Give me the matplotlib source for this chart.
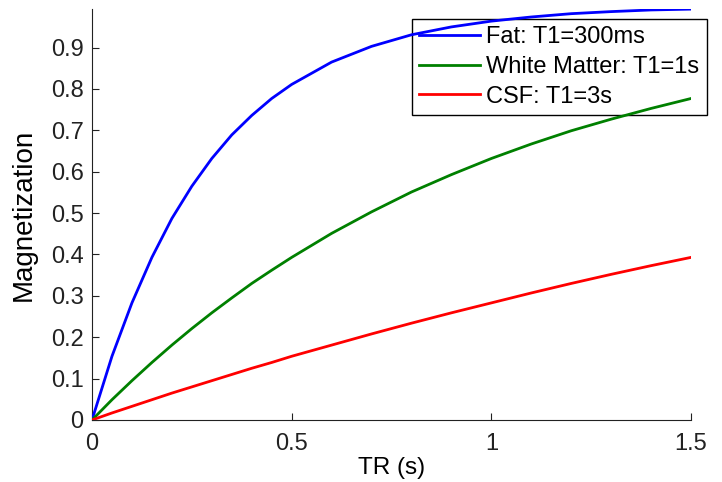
import numpy as np
import matplotlib
matplotlib.use('Agg')
import matplotlib.pyplot as plt

# Values (TR in seconds)
tr = [0.0, 0.05, 0.1, 0.15, 0.2, 0.25, 0.3, 0.35, 0.4, 0.45, 0.5,
      0.6, 0.7, 0.8, 0.9, 1.0, 1.1, 1.2, 1.3, 1.4, 1.5]
fat = [0.0, 0.154, 0.283, 0.393, 0.487, 0.565, 0.632, 0.689, 0.736, 0.777, 0.811,
       0.865, 0.903, 0.931, 0.950, 0.964, 0.974, 0.982, 0.987, 0.991, 0.993]
white_matter = [0.0, 0.049, 0.095, 0.139, 0.181, 0.221, 0.259, 0.295, 0.330, 0.362, 0.393,
                0.451, 0.503, 0.551, 0.593, 0.632, 0.667, 0.699, 0.727, 0.753, 0.777]
csf = [0.0, 0.017, 0.033, 0.049, 0.065, 0.080, 0.095, 0.110, 0.125, 0.139, 0.154,
       0.181, 0.208, 0.234, 0.259, 0.283, 0.307, 0.330, 0.352, 0.373, 0.393]
labels = ['Fat: T1=300ms', 'White Matter: T1=1s', 'CSF: T1=3s']
colors = ['#0000ff', '#008000', '#ff0000']

plt.rcParams['font.family'] = ['Liberation Sans', 'DejaVu Sans']

fig = plt.figure(figsize=(7.22, 4.82), dpi=100)
ax = fig.add_axes([92 / 722, 62 / 482, 599 / 722, 411 / 482])

for series, lab, col in zip([fat, white_matter, csf], labels, colors):
    ax.plot(tr, series, color=col, linewidth=2, label=lab, zorder=5)

ax.set_xlim(0, 1.5)
ax.set_ylim(0, 0.9933)
ax.set_xticks([0, 0.5, 1, 1.5])
ax.set_xticklabels(['0', '0.5', '1', '1.5'])
ax.set_yticks(np.arange(0, 1.0, 0.1))
ax.set_yticklabels(['0'] + [f'{v:.1f}' for v in np.arange(0.1, 1.0, 0.1)])
ax.tick_params(direction='in', length=5, labelsize=17, colors='#222222')
ax.tick_params(axis='x', pad=9)
ax.tick_params(axis='y', pad=6)
ax.spines['top'].set_visible(False)
ax.spines['right'].set_visible(False)
for s in ['left', 'bottom']:
    ax.spines[s].set_color('#222222')

ax.set_xlabel('TR (s)', fontsize=17.5, labelpad=2)
ax.set_ylabel('Magnetization', fontsize=20, labelpad=10)

leg = ax.legend(loc='upper left', bbox_to_anchor=(412 / 722, 463 / 482),
                bbox_transform=fig.transFigure, fontsize=17, frameon=True,
                fancybox=False, edgecolor='black', framealpha=1,
                borderpad=0.3, labelspacing=0.33, handlelength=2.6,
                handletextpad=0.25, borderaxespad=0)
leg.set_zorder(2)
leg.get_frame().set_linewidth(1)

fig.savefig('out.png', dpi=100)
